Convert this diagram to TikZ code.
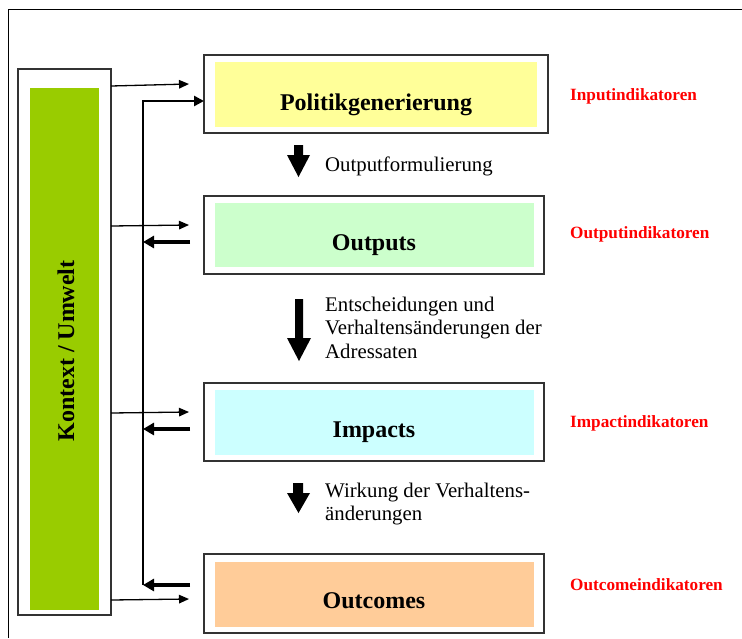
\documentclass[tikz,border=0pt]{standalone}
\usepackage{fontspec}
\setmainfont{Liberation Serif}
\usetikzlibrary{arrows.meta}
\definecolor{kgreen}{HTML}{99CC00}
\definecolor{pyellow}{HTML}{FFFF99}
\definecolor{pgreen}{HTML}{CCFFCC}
\definecolor{pcyan}{HTML}{CCFFFF}
\definecolor{porange}{HTML}{FFCC99}
\definecolor{indred}{HTML}{FF0000}
\begin{document}
\begin{tikzpicture}[x=1pt,y=-1pt,
  frame/.style={draw=black!80, line width=1.4pt, fill=white, inner sep=0pt, outer sep=0pt},
  panel/.style={draw=none, inner sep=0pt, outer sep=0pt},
  title/.style={font=\fontsize{24}{28}\selectfont\bfseries, anchor=base, inner sep=0pt},
  ind/.style={font=\fontsize{17.2}{20}\selectfont\bfseries, text=indred, anchor=base west, inner sep=0pt},
  desc/.style={font=\fontsize{20.8}{23.5}\selectfont, anchor=base west, align=left, inner sep=0pt},
  thinarrow/.style={line width=1.3pt, -{Triangle[length=10pt,width=8.5pt]}},
  fbline/.style={line width=2.6pt, -{Triangle[length=10pt,width=10pt]}},
  backarrow/.style={line width=3.8pt, -{Triangle[length=11pt,width=12pt]}},
  blockarrow/.style={fill=black}
]
\useasboundingbox (0,0) rectangle (742,638);
\draw[line width=1pt] (8,638) -- (8,9) -- (742,9);

% Kontext / Umwelt
\node[frame, minimum width=93pt, minimum height=546pt] (kon) at (64.5,342) {};
\node[panel, fill=kgreen, minimum width=69pt, minimum height=522pt] (konp) at (64.5,349) {};
\node[title, rotate=90, anchor=center] (kont) at (66,351) {Kontext / Umwelt};

% Politikgenerierung
\node[frame, minimum width=344pt, minimum height=78pt] (pol) at (376,94) {};
\node[panel, fill=pyellow, minimum width=322pt, minimum height=65pt] (polp) at (376,94.5) {};
\node[title] (polt) at (376,110) {Politikgenerierung};

% Outputs
\node[frame, minimum width=340pt, minimum height=78pt] (out) at (374,235) {};
\node[panel, fill=pgreen, minimum width=319pt, minimum height=64pt] (outp) at (374.5,235) {};
\node[title] (outt) at (374,250) {Outputs};

% Impacts
\node[frame, minimum width=340pt, minimum height=78pt] (imp) at (374,422) {};
\node[panel, fill=pcyan, minimum width=319pt, minimum height=65pt] (impp) at (374.5,422.5) {};
\node[title] (impt) at (374,437) {Impacts};

% Outcomes
\node[frame, minimum width=340pt, minimum height=79pt] (oc) at (374,593.5) {};
\node[panel, fill=porange, minimum width=319pt, minimum height=65pt] (ocp) at (374.5,594.5) {};
\node[title] (oct) at (374,608) {Outcomes};

% Indicators
\node[ind] (i1) at (570,100) {Inputindikatoren};
\node[ind] (i2) at (570,238) {Outputindikatoren};
\node[ind] (i3) at (570,427) {Impactindikatoren};
\node[ind] (i4) at (570,590) {Outcomeindikatoren};

% Descriptions (base anchor = baseline of last line)
\node[desc] (d1) at (325,171) {Outputformulierung};
\node[desc] (d2) at (325,358) {Entscheidungen und\\Verhaltensänderungen der\\Adressaten};
\node[desc] (d3) at (325,520.5) {Wirkung der Verhaltens-\\änderungen};

% Block arrows
\fill[blockarrow] (294,145) -- (303,145) -- (303,155) -- (310,155) -- (298.5,177) -- (287,155) -- (294,155) -- cycle;
\fill[blockarrow] (295,299) -- (303,299) -- (303,338) -- (311,338) -- (299,361) -- (287,338) -- (295,338) -- cycle;
\fill[blockarrow] (293,483) -- (303,483) -- (303,493) -- (310,493) -- (298.5,513) -- (287,493) -- (293,493) -- cycle;

% Thin arrows from Kontext
\coordinate (a1) at (189,84);
\coordinate (a2) at (189,225);
\coordinate (a3) at (189,412);
\coordinate (a4) at (189,599);
\draw[thinarrow] (kon.east |- 0,86) -- (a1);
\draw[thinarrow] (kon.east |- 0,226) -- (a2);
\draw[thinarrow] (kon.east |- 0,413) -- (a3);
\draw[thinarrow] (kon.east |- 0,600) -- (a4);

% Feedback loop
\coordinate (ftop) at (143,101);
\coordinate (fbot) at (143,585);
\draw[fbline] (fbot) -- (ftop) -- (pol.west |- ftop);
\coordinate (b2) at (190,242);
\coordinate (b3) at (190,429);
\coordinate (b4) at (190,585);
\draw[backarrow] (b2) -- (ftop |- b2);
\draw[backarrow] (b3) -- (ftop |- b3);
\draw[backarrow] (b4) -- (ftop |- b4);
\end{tikzpicture}
\end{document}
